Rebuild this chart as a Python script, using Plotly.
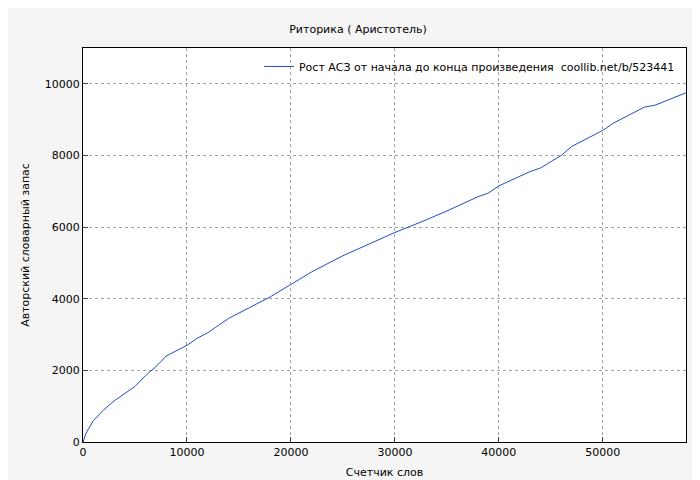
import plotly.graph_objects as go

words = [0, 300, 1000, 2000, 3000, 4000, 5000, 6000, 7000, 8000, 9000, 10000, 11000, 12000, 13000, 14000, 16000, 18000, 20000, 22000, 25000, 28000, 30000, 33000, 35000, 38000, 39000, 40000, 43000, 44000, 46000, 47000, 50000, 51000, 53000, 54000, 55000, 58000]
vocab = [0, 250, 600, 900, 1150, 1350, 1550, 1850, 2100, 2400, 2550, 2700, 2900, 3050, 3250, 3450, 3750, 4050, 4400, 4750, 5200, 5600, 5850, 6200, 6450, 6850, 6950, 7150, 7550, 7650, 8000, 8250, 8700, 8900, 9200, 9350, 9400, 9750]

fig = go.Figure(go.Scatter(x=words, y=vocab, mode="lines", line=dict(color="#1f4fbf", width=1),
                           name="Рост АСЗ от начала до конца произведения  coollib.net/b/523441"))
grid = dict(showgrid=True, gridcolor="#a0a0a0", griddash="dot", gridwidth=1, showline=True,
            linecolor="black", mirror=True, ticks="inside", ticklen=5, zeroline=False,
            automargin=False, tickformat="d")
fig.update_layout(
    width=700, height=480, paper_bgcolor="#f5f5f5", plot_bgcolor="white",
    font=dict(family="DejaVu Sans", size=11, color="black"),
    title=dict(text="Риторика ( Аристотель)", x=0.5, y=0.965, xanchor="center", font=dict(size=11),
               automargin=False),
    margin=dict(l=75, r=22, t=40, b=46, autoexpand=False),
    xaxis=dict(range=[0, 58000], dtick=10000, title=dict(text="Счетчик слов", standoff=10, font=dict(size=11)), **grid),
    yaxis=dict(range=[0, 11000], dtick=2000, title=dict(text="Авторский словарный запас", standoff=12, font=dict(size=11)), **grid),
    legend=dict(x=0.99, y=0.99, xanchor="right", yanchor="top", bgcolor="rgba(0,0,0,0)"),
    showlegend=True,
)
fig.write_html("out.html")
